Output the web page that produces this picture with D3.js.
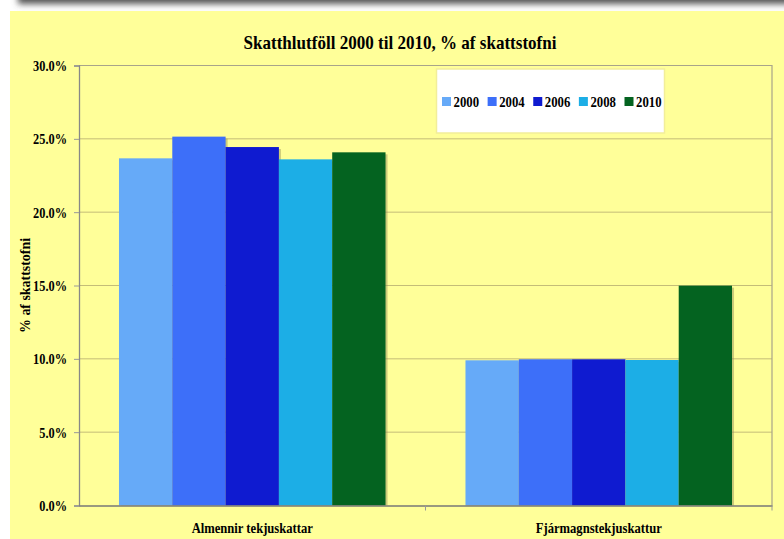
<!DOCTYPE html>
<html>
<head>
<meta charset="utf-8">
<script src="https://cdn.jsdelivr.net/npm/d3@7"></script>
<style>
  body { margin: 0; background: #ffffff; }
  text { font-family: "Liberation Serif", "Times New Roman", serif; font-weight: bold; fill: #000; }
</style>
</head>
<body>
<svg id="chart" width="784" height="539"></svg>
<script>
// data
const categories = ["Almennir tekjuskattar", "Fjármagnstekjuskattur"];
const years = ["2000", "2004", "2006", "2008", "2010"];
const values2000 = [0.2367, 0.0990];
const values2004 = [0.2515, 0.0997];
const values2006 = [0.2444, 0.0997];
const values2008 = [0.2360, 0.0992];
const values2010 = [0.2408, 0.1499];
const yTicks = [0, 0.05, 0.10, 0.15, 0.20, 0.25, 0.30];

const seriesColors = ["#66aaf8", "#3d6ff9", "#0f1bd0", "#1caee6", "#046320"];
const series = [values2000, values2004, values2006, values2008, values2010];

const width = 784, height = 539;
const plot = { left: 79, right: 772, top: 65.5, bottom: 505.5 };

// the original text looks horizontally squeezed
function squeeze(sel, f) {
  sel.each(function() {
    const w = this.getComputedTextLength();
    d3.select(this).attr("textLength", w * f).attr("lengthAdjust", "spacingAndGlyphs");
  });
}

const svg = d3.select("#chart");
const defs = svg.append("defs");

defs.append("filter").attr("id", "blur")
    .attr("x", "-10%").attr("y", "-200%").attr("width", "120%").attr("height", "500%")
  .append("feGaussianBlur").attr("stdDeviation", 3);

// grey shadow band at the very top
svg.append("rect")
    .attr("x", 18).attr("y", -12)
    .attr("width", 820).attr("height", 16)
    .attr("fill", "#555")
    .attr("filter", "url(#blur)");

// yellow chart area
svg.append("rect")
    .attr("x", 10).attr("y", 11)
    .attr("width", width - 10).attr("height", height - 11)
    .attr("fill", "#ffff99");

const y = d3.scaleLinear().domain([0, 0.30]).range([plot.bottom, plot.top]);
const x0 = d3.scaleBand().domain(categories).range([plot.left, plot.right]).padding(0);
const x1 = d3.scaleBand().domain(years).range([0, x0.bandwidth()])
    .paddingInner(0).paddingOuter(0.75);

// gridlines
svg.append("g")
  .selectAll("line")
  .data(yTicks.filter(t => t > 0 && t < 0.30))
  .join("line")
    .attr("x1", plot.left).attr("x2", plot.right)
    .attr("y1", d => y(d)).attr("y2", d => y(d))
    .attr("stroke", "#c4bd78").attr("stroke-width", 1);

// plot border (top + right)
svg.append("path")
    .attr("d", `M${plot.left},${y(0.30)}H${plot.right}V${y(0)}`)
    .attr("fill", "none")
    .attr("stroke", "#a8a48a").attr("stroke-width", 1.2);

// bars
const groups = svg.append("g")
  .selectAll("g")
  .data(categories)
  .join("g")
    .attr("transform", d => `translate(${x0(d)},0)`);

const barData = (c, ci) => years.map((yr, i) => ({ year: yr, value: series[i][ci], color: seriesColors[i] }));

// shadows first
groups.selectAll("rect.shadow")
  .data((c, ci) => barData(c, ci))
  .join("rect")
    .attr("class", "shadow")
    .attr("x", d => x1(d.year) + 2)
    .attr("y", d => y(d.value) + 2)
    .attr("width", x1.bandwidth())
    .attr("height", d => y(0) - y(d.value) - 2)
    .attr("fill", "#8f8a55").attr("opacity", 0.45);

groups.selectAll("rect.bar")
  .data((c, ci) => barData(c, ci))
  .join("rect")
    .attr("class", "bar")
    .attr("x", d => x1(d.year))
    .attr("y", d => y(d.value))
    .attr("width", x1.bandwidth())
    .attr("height", d => y(0) - y(d.value))
    .attr("fill", d => d.color);

// y axis
const yAxis = svg.append("g")
    .attr("transform", `translate(${plot.left},0)`)
    .call(d3.axisLeft(y).tickValues(yTicks).tickFormat(d3.format(".1%")).tickSize(5).tickPadding(7));
yAxis.select(".domain").attr("stroke", "#888").attr("stroke-width", 1.3);
yAxis.selectAll(".tick line").attr("stroke", "#999");
yAxis.selectAll("text")
    .attr("font-size", 14.5).attr("dy", "0.34em")
    .call(squeeze, 0.85);

// x axis
const xAxis = svg.append("g")
    .attr("transform", `translate(0,${plot.bottom})`)
    .call(d3.axisBottom(x0).tickSize(0));
xAxis.select(".domain").attr("stroke", "#777").attr("stroke-width", 1.3);
xAxis.selectAll("text")
    .attr("font-size", 14)
    .attr("y", 27).attr("dy", null)
    .call(squeeze, 0.9);

// category separator ticks
svg.append("g")
  .selectAll("line")
  .data(categories)
  .join("line")
    .attr("x1", d => x0(d) + x0.bandwidth())
    .attr("x2", d => x0(d) + x0.bandwidth())
    .attr("y1", plot.bottom).attr("y2", plot.bottom + 5)
    .attr("stroke", "#999");

// title
svg.append("text")
    .attr("x", 400).attr("y", 49)
    .attr("text-anchor", "middle")
    .attr("font-size", 19)
    .attr("textLength", 313).attr("lengthAdjust", "spacingAndGlyphs")
    .text("Skatthlutföll 2000 til 2010, % af skattstofni");

// y axis title
svg.append("text")
    .attr("transform", "translate(30,285.5) rotate(-90)")
    .attr("text-anchor", "middle")
    .attr("font-size", 14.5)
    .attr("textLength", 95).attr("lengthAdjust", "spacingAndGlyphs")
    .text("% af skattstofni");

// legend
const legend = svg.append("g");
legend.append("rect")
    .attr("x", 436.5).attr("y", 69)
    .attr("width", 228).attr("height", 64)
    .attr("fill", "#ffffff")
    .attr("stroke", "#f2ee9a").attr("stroke-width", 1.5);

const legendX = d3.scalePoint().domain(years).range([442, 624.5]);
const items = legend.selectAll("g.item")
  .data(years)
  .join("g")
    .attr("class", "item")
    .attr("transform", d => `translate(${legendX(d)},97)`);
items.append("rect")
    .attr("width", 9).attr("height", 9)
    .attr("fill", (d, i) => seriesColors[i]);
items.append("text")
    .attr("x", 11.5).attr("y", 9.5)
    .attr("font-size", 14.5)
    .text(d => d)
    .call(squeeze, 0.88);
</script>
</body>
</html>
